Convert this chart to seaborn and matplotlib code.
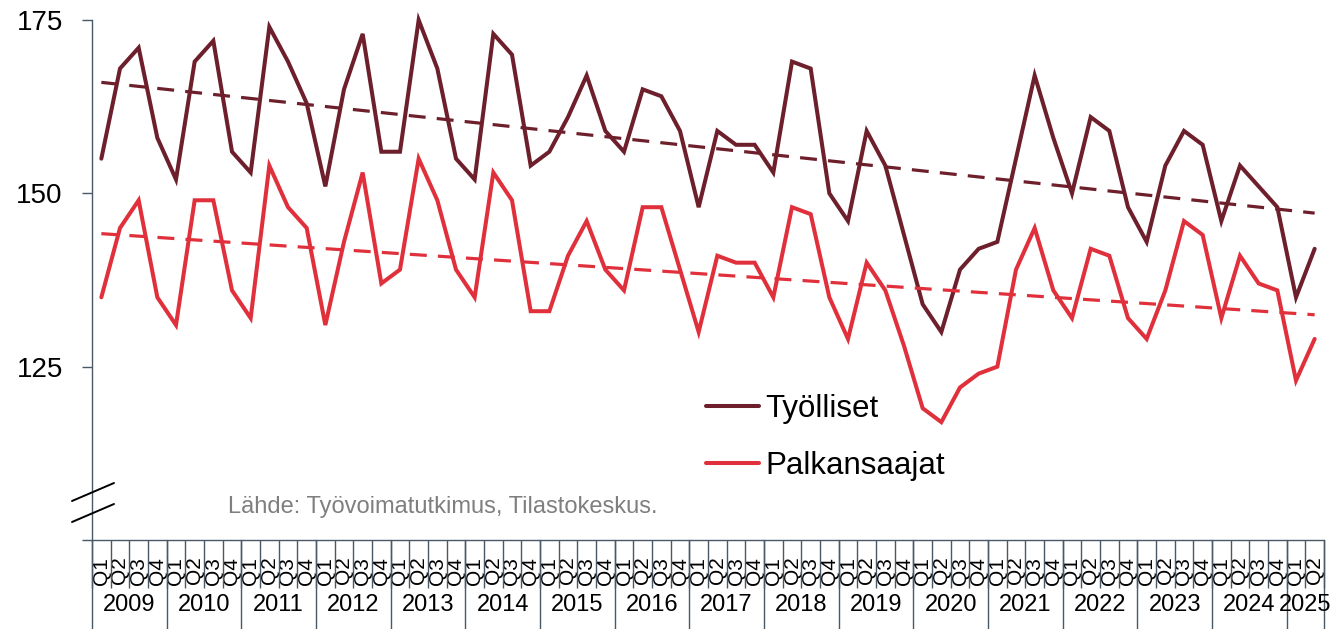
import matplotlib.pyplot as plt
import seaborn as sns
import numpy as np
import pandas as pd

# Quarterly series 2009Q1 - 2025Q2
years = [2009, 2010, 2011, 2012, 2013, 2014, 2015, 2016, 2017,
         2018, 2019, 2020, 2021, 2022, 2023, 2024, 2025]
quarters_in_year = [4] * 16 + [2]

tyolliset = [155, 168, 171, 158, 152, 169, 172, 156,
             153, 174, 169, 163, 151, 165, 173, 156,
             156, 175, 168, 155, 152, 173, 170, 154,
             156, 161, 167, 159, 156, 165, 164, 159,
             148, 159, 157, 157, 153, 169, 168, 150,
             146, 159, 154, 144, 134, 130, 139, 142,
             143, 155, 167, 158, 150, 161, 159, 148,
             143, 154, 159, 157, 146, 154, 151, 148,
             135, 142]

palkansaajat = [135, 145, 149, 135, 131, 149, 149, 136,
                132, 154, 148, 145, 131, 143, 153, 137,
                139, 155, 149, 139, 135, 153, 149, 133,
                133, 141, 146, 139, 136, 148, 148, 139,
                130, 141, 140, 140, 135, 148, 147, 135,
                129, 140, 136, 128, 119, 117, 122, 124,
                125, 139, 145, 136, 132, 142, 141, 132,
                129, 136, 146, 144, 132, 141, 137, 136,
                123, 129]

series_names = ['Työlliset', 'Palkansaajat']
colors = {'Työlliset': '#6D1F2B', 'Palkansaajat': '#E0303B'}
axis_color = '#4A5968'
source = 'Lähde: Työvoimatutkimus, Tilastokeskus.'

q_labels = []
year_of_point = []
for y, nq in zip(years, quarters_in_year):
    for q in range(1, nq + 1):
        q_labels.append(f'Q{q}')
        year_of_point.append(y)

n = len(q_labels)
df = pd.DataFrame({'idx': np.arange(n), 'year': year_of_point,
                   'Työlliset': tyolliset, 'Palkansaajat': palkansaajat})
long = df.melt(id_vars=['idx', 'year'], value_vars=series_names,
               var_name='sarja', value_name='arvo')

sns.set_theme(style='white')
plt.rcParams['font.family'] = ['Liberation Sans', 'DejaVu Sans']
plt.rcParams['text.color'] = 'black'

W, H = 1332, 629
fig = plt.figure(figsize=(W / 100, H / 100), dpi=100)
ax = fig.add_axes([92 / W, 1 - 540 / H, (1324 - 92) / W, 520 / H])

sns.lineplot(data=long, x='idx', y='arvo', hue='sarja', hue_order=series_names,
             palette=colors, linewidth=2.9, ax=ax, legend=False, clip_on=False,
             solid_joinstyle='miter')

# linear trend lines
for name in series_names:
    k, b = np.polyfit(df['idx'], df[name], 1)
    ax.plot(df['idx'], k * df['idx'] + b, color=colors[name], lw=2.3,
            dashes=(5.3, 3.5))

ax.set_xlim(-0.5, n - 0.5)
ax.set_ylim(100, 175)
ax.set_xlabel('')
ax.set_ylabel('')

sns.despine(ax=ax)
for s in ['left', 'bottom']:
    ax.spines[s].set_color(axis_color)
    ax.spines[s].set_linewidth(1.0)

# y axis
ax.set_yticks([100, 125, 150, 175])
ax.set_yticklabels(['', '125', '150', '175'])
ax.tick_params(axis='y', left=True, length=7, width=1, color=axis_color,
               pad=14, labelsize=20, labelcolor='black')

# x axis: quarter labels + boundaries
ax.set_xticks(df['idx'])
ax.set_xticklabels(q_labels, rotation=90)
ax.tick_params(axis='x', which='major', bottom=True, length=0, pad=12,
               labelsize=15, labelcolor='black')
ax.set_xticks(np.arange(-0.5, n, 1), minor=True)
ax.tick_params(axis='x', which='minor', bottom=True, length=34.5, width=1,
               color=axis_color, direction='out')

trans = ax.get_xaxis_transform()
grp = df.groupby('year')['idx']
bounds = sorted(set(list(grp.min() - 0.5) + [n - 0.5]))
for bx in bounds:
    ax.plot([bx, bx], [0, -0.2], transform=trans, clip_on=False,
            color=axis_color, lw=1)
for y, c in grp.mean().items():
    ax.text(c, -0.125, str(y), transform=trans, ha='center', va='center',
            fontsize=17)

# axis break marks
for y0 in [501, 522]:
    fig.add_artist(plt.Line2D([72 / W, 114 / W], [1 - y0 / H, 1 - (y0 - 18) / H],
                              transform=fig.transFigure, color='black', lw=1.4))

fig.text(228 / W, 1 - 507 / H, source, va='center', ha='left',
         color='#7F7F7F', fontsize=17)

handles = ax.get_lines()[:2]
ax.legend(handles, series_names, loc='upper left',
          bbox_to_anchor=(706 / W, 1 - 394 / H), bbox_transform=fig.transFigure,
          frameon=False, fontsize=22.5, handlelength=1.7, handletextpad=0.2,
          labelspacing=0.85, borderpad=0, borderaxespad=0)

fig.savefig('out.png', dpi=100)
